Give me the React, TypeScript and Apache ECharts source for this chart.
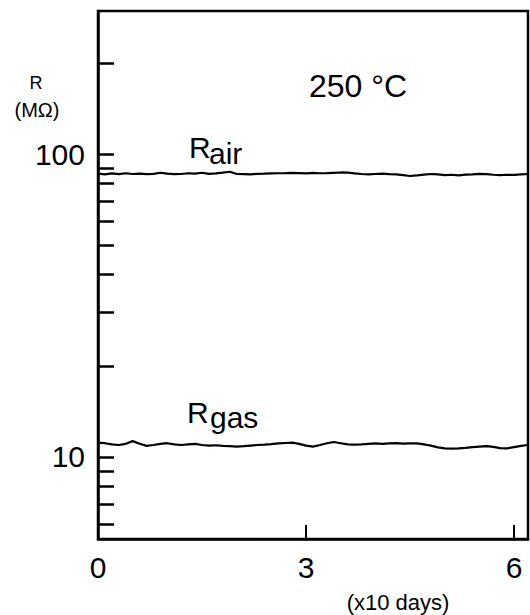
import React, { useEffect, useRef } from "react";
import * as echarts from "echarts";

// time, in units of 10 days
const days = [
  0.0, 0.1, 0.2, 0.3, 0.4, 0.5, 0.6, 0.7, 0.8, 0.9,
  1.0, 1.1, 1.2, 1.3, 1.4, 1.5, 1.6, 1.7, 1.8, 1.9,
  2.0, 2.1, 2.2, 2.3, 2.4, 2.5, 2.6, 2.7, 2.8, 2.9,
  3.0, 3.1, 3.2, 3.3, 3.4, 3.5, 3.6, 3.7, 3.8, 3.9,
  4.0, 4.1, 4.2, 4.3, 4.4, 4.5, 4.6, 4.7, 4.8, 4.9,
  5.0, 5.1, 5.2, 5.3, 5.4, 5.5, 5.6, 5.7, 5.8, 5.9,
  6.0, 6.1, 6.2,
];

// resistance in air (MΩ)
const rAir = [
  86.2, 85.7, 86.3, 85.8, 86.4, 85.9, 86.2, 85.8, 86.0, 86.7,
  86.1, 85.8, 85.9, 86.4, 86.2, 86.7, 86.0, 86.3, 86.8, 87.4,
  85.9, 85.8, 85.7, 86.0, 86.1, 86.3, 86.4, 86.5, 86.7, 86.5,
  86.3, 86.6, 86.4, 86.5, 86.7, 86.9, 86.8, 86.3, 85.9, 85.7,
  85.9, 86.1, 85.8, 85.6, 85.2, 84.6, 85.0, 85.5, 85.9, 85.6,
  85.2, 85.4, 85.0, 85.5, 85.7, 86.0, 85.8, 85.4, 85.2, 85.4,
  85.3, 85.7, 85.9,
];

// resistance in gas (MΩ)
const rGas = [
  11.15, 11.1, 11.0, 10.95, 11.05, 11.28, 11.05, 10.88, 10.95, 11.05,
  11.1, 11.0, 10.95, 11.0, 11.05, 10.95, 10.9, 10.93, 10.88, 10.85,
  10.82, 10.85, 10.9, 10.95, 10.98, 11.02, 11.08, 11.12, 11.15, 11.05,
  10.9, 10.82, 10.95, 11.1, 11.2, 11.1, 11.0, 10.98, 11.0, 11.05,
  11.08, 11.05, 11.08, 11.1, 11.06, 11.08, 11.08, 11.0, 10.9, 10.75,
  10.67, 10.66, 10.68, 10.72, 10.78, 10.82, 10.85, 10.8, 10.7, 10.68,
  10.78, 10.88, 10.95,
];

const yTickValues = [6, 7, 8, 9, 10, 20, 30, 40, 50, 60, 70, 80, 90, 100, 200];
const yLabelValues = [10, 100];
const xTickValues = [0, 3, 6];

const FONT = '"Liberation Sans", Arial, sans-serif';

export default function App() {
  const ref = useRef<HTMLDivElement>(null);

  useEffect(() => {
    if (!ref.current) return;
    const chart = echarts.init(ref.current, undefined, { renderer: "svg" });
    const airData = days.map((d, i) => [d, rAir[i]]);
    const gasData = days.map((d, i) => [d, rGas[i]]);

    chart.setOption({
      animation: false,
      backgroundColor: "#ffffff",
      grid: {
        left: 98,
        top: 11,
        right: 2,
        bottom: 76,
        show: true,
        borderColor: "#000",
        borderWidth: 2.5,
      },
      xAxis: {
        type: "value",
        min: 0,
        max: 6.2,
        interval: 3,
        axisLine: { show: true, lineStyle: { color: "#000", width: 2.5 } },
        axisTick: {
          show: true,
          inside: true,
          length: 14,
          customValues: xTickValues,
          lineStyle: { color: "#000", width: 2 },
        },
        axisLabel: {
          color: "#000",
          fontSize: 30,
          fontFamily: FONT,
          margin: 13,
          customValues: xTickValues,
        },
        splitLine: { show: false },
      },
      yAxis: {
        type: "log",
        logBase: 10,
        min: 5.36,
        max: 296.5,
        axisLine: { show: true, lineStyle: { color: "#000", width: 2.5 } },
        axisTick: {
          show: true,
          inside: true,
          length: 16,
          customValues: yTickValues,
          lineStyle: { color: "#000", width: 2.5 },
        },
        axisLabel: {
          color: "#000",
          fontSize: 30,
          fontFamily: FONT,
          margin: 13,
          customValues: yLabelValues,
        },
        minorTick: { show: false },
        splitLine: { show: false },
      },
      graphic: [
        {
          type: "text",
          x: 36,
          y: 83,
          style: { text: "R", fill: "#000", font: `18px ${FONT}`, textAlign: "center", textVerticalAlign: "middle" },
        },
        {
          type: "text",
          x: 37,
          y: 110,
          style: { text: "(MΩ)", fill: "#000", font: `20px ${FONT}`, textAlign: "center", textVerticalAlign: "middle" },
        },
        {
          type: "text",
          x: 309,
          y: 86,
          style: { text: "250 °C", fill: "#000", font: `32px ${FONT}`, textAlign: "left", textVerticalAlign: "middle" },
        },
        {
          type: "text",
          x: 189,
          y: 147,
          style: { text: "R", fill: "#000", font: `30px ${FONT}`, textAlign: "left", textVerticalAlign: "middle" },
        },
        {
          type: "text",
          x: 209,
          y: 153,
          style: { text: "air", fill: "#000", font: `30px ${FONT}`, textAlign: "left", textVerticalAlign: "middle" },
        },
        {
          type: "text",
          x: 187,
          y: 412,
          style: { text: "R", fill: "#000", font: `30px ${FONT}`, textAlign: "left", textVerticalAlign: "middle" },
        },
        {
          type: "text",
          x: 210,
          y: 417,
          style: { text: "gas", fill: "#000", font: `30px ${FONT}`, textAlign: "left", textVerticalAlign: "middle" },
        },
        {
          type: "text",
          x: 398,
          y: 602,
          style: { text: "(x10 days)", fill: "#000", font: `22px ${FONT}`, textAlign: "center", textVerticalAlign: "middle" },
        },
      ],
      series: [
        {
          name: "Rair",
          type: "line",
          data: airData,
          showSymbol: false,
          lineStyle: { color: "#000", width: 2.2 },
          z: 3,
        },
        {
          name: "Rgas",
          type: "line",
          data: gasData,
          showSymbol: false,
          lineStyle: { color: "#000", width: 2.2 },
          z: 3,
        },
      ],
    });

    return () => chart.dispose();
  }, []);

  return (
    <div
      ref={ref}
      style={{ position: "absolute", left: 0, top: 0, width: 530, height: 615, background: "#fff" }}
    />
  );
}
